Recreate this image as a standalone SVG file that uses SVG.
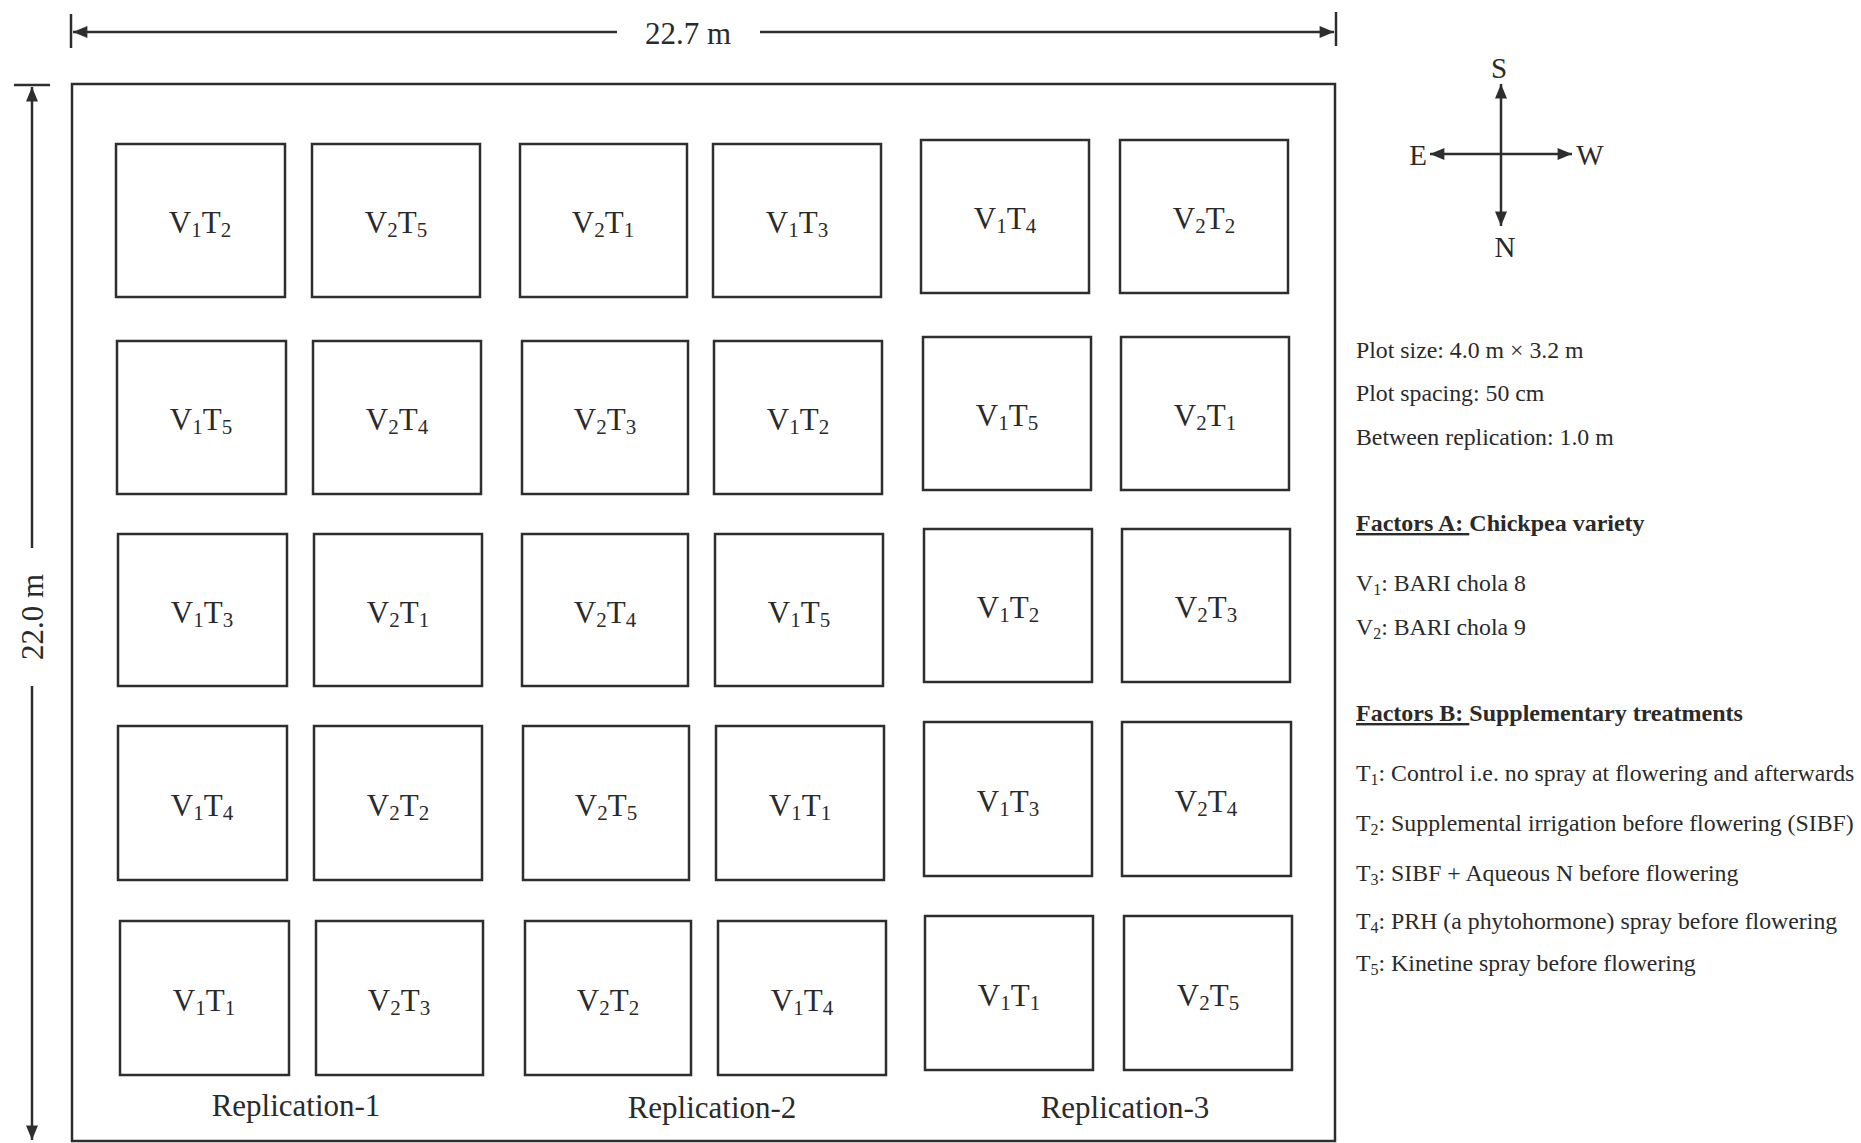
<svg xmlns="http://www.w3.org/2000/svg" width="1861" height="1143" viewBox="0 0 1861 1143">
<style>
text{font-family:"Liberation Serif","Times New Roman",serif;fill:#2a2a2a}
.plot{fill:none;stroke:#2e2e2e;stroke-width:2.5}
.lbl{font-size:31px;text-anchor:middle}
.sub{font-size:21px}
.dim{stroke:#2e2e2e;stroke-width:2.5;fill:none}
.leg{font-size:23.8px}
.ls{font-size:16px}
.legb{font-size:24px;font-weight:bold}
</style>
<defs>
<marker id="arr" viewBox="0 0 12 10" refX="12" refY="5" markerUnits="userSpaceOnUse" markerWidth="15" markerHeight="12" orient="auto-start-reverse">
<path d="M0,0 L12,5 L0,10 z" fill="#2e2e2e"/>
</marker>
</defs>
<rect width="1861" height="1143" fill="#ffffff"/>

<g id="connectors">
<line class="dim" x1="71" y1="14" x2="71" y2="48"/>
<line class="dim" x1="1336" y1="12" x2="1336" y2="46"/>
<line class="dim" x1="73" y1="32" x2="617" y2="32" marker-start="url(#arr)"/>
<line class="dim" x1="760" y1="32" x2="1334" y2="32" marker-end="url(#arr)"/>
<line class="dim" x1="14" y1="85" x2="50" y2="85"/>
<line class="dim" x1="32" y1="87" x2="32" y2="548" marker-start="url(#arr)"/>
<line class="dim" x1="32" y1="686" x2="32" y2="1140" marker-end="url(#arr)"/>
<line class="dim" x1="1501" y1="84" x2="1501" y2="226" marker-start="url(#arr)" marker-end="url(#arr)"/>
<line class="dim" x1="1430" y1="154" x2="1572" y2="154" marker-start="url(#arr)" marker-end="url(#arr)"/>
</g>

<g id="dimension-labels">
<text x="688" y="44" style="font-size:31px;text-anchor:middle">22.7 m</text>
<text x="43" y="617" transform="rotate(-90 43 617)" style="font-size:31px;text-anchor:middle">22.0 m</text>
</g>

<g id="compass">
<text x="1499" y="78" style="font-size:29px;text-anchor:middle">S</text>
<text x="1505" y="257" style="font-size:29px;text-anchor:middle">N</text>
<text x="1418" y="165" style="font-size:29px;text-anchor:middle">E</text>
<text x="1590" y="165" style="font-size:29px;text-anchor:middle">W</text>
</g>

<g id="field">
<rect x="72" y="84" width="1263" height="1057" fill="none" stroke="#2e2e2e" stroke-width="2.5"/>
</g>

<g id="p-r1c1"><rect class="plot" x="116" y="144" width="169" height="153"/><text class="lbl" x="200" y="233">V<tspan class="sub" dy="4">1</tspan><tspan dy="-4">T</tspan><tspan class="sub" dy="4">2</tspan></text></g>
<g id="p-r1c2"><rect class="plot" x="312" y="144" width="168" height="153"/><text class="lbl" x="396" y="233">V<tspan class="sub" dy="4">2</tspan><tspan dy="-4">T</tspan><tspan class="sub" dy="4">5</tspan></text></g>
<g id="p-r1c3"><rect class="plot" x="520" y="144" width="167" height="153"/><text class="lbl" x="603" y="233">V<tspan class="sub" dy="4">2</tspan><tspan dy="-4">T</tspan><tspan class="sub" dy="4">1</tspan></text></g>
<g id="p-r1c4"><rect class="plot" x="713" y="144" width="168" height="153"/><text class="lbl" x="797" y="233">V<tspan class="sub" dy="4">1</tspan><tspan dy="-4">T</tspan><tspan class="sub" dy="4">3</tspan></text></g>
<g id="p-r1c5"><rect class="plot" x="921" y="140" width="168" height="153"/><text class="lbl" x="1005" y="229">V<tspan class="sub" dy="4">1</tspan><tspan dy="-4">T</tspan><tspan class="sub" dy="4">4</tspan></text></g>
<g id="p-r1c6"><rect class="plot" x="1120" y="140" width="168" height="153"/><text class="lbl" x="1204" y="229">V<tspan class="sub" dy="4">2</tspan><tspan dy="-4">T</tspan><tspan class="sub" dy="4">2</tspan></text></g>

<g id="p-r2c1"><rect class="plot" x="117" y="341" width="169" height="153"/><text class="lbl" x="201" y="430">V<tspan class="sub" dy="4">1</tspan><tspan dy="-4">T</tspan><tspan class="sub" dy="4">5</tspan></text></g>
<g id="p-r2c2"><rect class="plot" x="313" y="341" width="168" height="153"/><text class="lbl" x="397" y="430">V<tspan class="sub" dy="4">2</tspan><tspan dy="-4">T</tspan><tspan class="sub" dy="4">4</tspan></text></g>
<g id="p-r2c3"><rect class="plot" x="522" y="341" width="166" height="153"/><text class="lbl" x="605" y="430">V<tspan class="sub" dy="4">2</tspan><tspan dy="-4">T</tspan><tspan class="sub" dy="4">3</tspan></text></g>
<g id="p-r2c4"><rect class="plot" x="714" y="341" width="168" height="153"/><text class="lbl" x="798" y="430">V<tspan class="sub" dy="4">1</tspan><tspan dy="-4">T</tspan><tspan class="sub" dy="4">2</tspan></text></g>
<g id="p-r2c5"><rect class="plot" x="923" y="337" width="168" height="153"/><text class="lbl" x="1007" y="426">V<tspan class="sub" dy="4">1</tspan><tspan dy="-4">T</tspan><tspan class="sub" dy="4">5</tspan></text></g>
<g id="p-r2c6"><rect class="plot" x="1121" y="337" width="168" height="153"/><text class="lbl" x="1205" y="426">V<tspan class="sub" dy="4">2</tspan><tspan dy="-4">T</tspan><tspan class="sub" dy="4">1</tspan></text></g>

<g id="p-r3c1"><rect class="plot" x="118" y="534" width="169" height="152"/><text class="lbl" x="202" y="623">V<tspan class="sub" dy="4">1</tspan><tspan dy="-4">T</tspan><tspan class="sub" dy="4">3</tspan></text></g>
<g id="p-r3c2"><rect class="plot" x="314" y="534" width="168" height="152"/><text class="lbl" x="398" y="623">V<tspan class="sub" dy="4">2</tspan><tspan dy="-4">T</tspan><tspan class="sub" dy="4">1</tspan></text></g>
<g id="p-r3c3"><rect class="plot" x="522" y="534" width="166" height="152"/><text class="lbl" x="605" y="623">V<tspan class="sub" dy="4">2</tspan><tspan dy="-4">T</tspan><tspan class="sub" dy="4">4</tspan></text></g>
<g id="p-r3c4"><rect class="plot" x="715" y="534" width="168" height="152"/><text class="lbl" x="799" y="623">V<tspan class="sub" dy="4">1</tspan><tspan dy="-4">T</tspan><tspan class="sub" dy="4">5</tspan></text></g>
<g id="p-r3c5"><rect class="plot" x="924" y="529" width="168" height="153"/><text class="lbl" x="1008" y="618">V<tspan class="sub" dy="4">1</tspan><tspan dy="-4">T</tspan><tspan class="sub" dy="4">2</tspan></text></g>
<g id="p-r3c6"><rect class="plot" x="1122" y="529" width="168" height="153"/><text class="lbl" x="1206" y="618">V<tspan class="sub" dy="4">2</tspan><tspan dy="-4">T</tspan><tspan class="sub" dy="4">3</tspan></text></g>

<g id="p-r4c1"><rect class="plot" x="118" y="726" width="169" height="154"/><text class="lbl" x="202" y="816">V<tspan class="sub" dy="4">1</tspan><tspan dy="-4">T</tspan><tspan class="sub" dy="4">4</tspan></text></g>
<g id="p-r4c2"><rect class="plot" x="314" y="726" width="168" height="154"/><text class="lbl" x="398" y="816">V<tspan class="sub" dy="4">2</tspan><tspan dy="-4">T</tspan><tspan class="sub" dy="4">2</tspan></text></g>
<g id="p-r4c3"><rect class="plot" x="523" y="726" width="166" height="154"/><text class="lbl" x="606" y="816">V<tspan class="sub" dy="4">2</tspan><tspan dy="-4">T</tspan><tspan class="sub" dy="4">5</tspan></text></g>
<g id="p-r4c4"><rect class="plot" x="716" y="726" width="168" height="154"/><text class="lbl" x="800" y="816">V<tspan class="sub" dy="4">1</tspan><tspan dy="-4">T</tspan><tspan class="sub" dy="4">1</tspan></text></g>
<g id="p-r4c5"><rect class="plot" x="924" y="722" width="168" height="154"/><text class="lbl" x="1008" y="812">V<tspan class="sub" dy="4">1</tspan><tspan dy="-4">T</tspan><tspan class="sub" dy="4">3</tspan></text></g>
<g id="p-r4c6"><rect class="plot" x="1122" y="722" width="169" height="154"/><text class="lbl" x="1206" y="812">V<tspan class="sub" dy="4">2</tspan><tspan dy="-4">T</tspan><tspan class="sub" dy="4">4</tspan></text></g>

<g id="p-r5c1"><rect class="plot" x="120" y="921" width="169" height="154"/><text class="lbl" x="204" y="1011">V<tspan class="sub" dy="4">1</tspan><tspan dy="-4">T</tspan><tspan class="sub" dy="4">1</tspan></text></g>
<g id="p-r5c2"><rect class="plot" x="316" y="921" width="167" height="154"/><text class="lbl" x="399" y="1011">V<tspan class="sub" dy="4">2</tspan><tspan dy="-4">T</tspan><tspan class="sub" dy="4">3</tspan></text></g>
<g id="p-r5c3"><rect class="plot" x="525" y="921" width="166" height="154"/><text class="lbl" x="608" y="1011">V<tspan class="sub" dy="4">2</tspan><tspan dy="-4">T</tspan><tspan class="sub" dy="4">2</tspan></text></g>
<g id="p-r5c4"><rect class="plot" x="718" y="921" width="168" height="154"/><text class="lbl" x="802" y="1011">V<tspan class="sub" dy="4">1</tspan><tspan dy="-4">T</tspan><tspan class="sub" dy="4">4</tspan></text></g>
<g id="p-r5c5"><rect class="plot" x="925" y="916" width="168" height="154"/><text class="lbl" x="1009" y="1006">V<tspan class="sub" dy="4">1</tspan><tspan dy="-4">T</tspan><tspan class="sub" dy="4">1</tspan></text></g>
<g id="p-r5c6"><rect class="plot" x="1124" y="916" width="168" height="154"/><text class="lbl" x="1208" y="1006">V<tspan class="sub" dy="4">2</tspan><tspan dy="-4">T</tspan><tspan class="sub" dy="4">5</tspan></text></g>

<g id="replication-labels">
<text x="296" y="1116" style="font-size:31px;text-anchor:middle">Replication-1</text>
<text x="712" y="1118" style="font-size:31px;text-anchor:middle">Replication-2</text>
<text x="1125" y="1118" style="font-size:31px;text-anchor:middle">Replication-3</text>
</g>

<g id="legend">
<text class="leg" x="1356" y="358">Plot size: 4.0 m × 3.2 m</text>
<text class="leg" x="1356" y="401">Plot spacing: 50 cm</text>
<text class="leg" x="1356" y="445">Between replication: 1.0 m</text>
<text class="legb" x="1356" y="531"><tspan text-decoration="underline">Factors A: </tspan>Chickpea variety</text>
<text class="leg" x="1356" y="591">V<tspan class="ls" dy="4">1</tspan><tspan dy="-4">: BARI chola 8</tspan></text>
<text class="leg" x="1356" y="635">V<tspan class="ls" dy="4">2</tspan><tspan dy="-4">: BARI chola 9</tspan></text>
<text class="legb" x="1356" y="721"><tspan text-decoration="underline">Factors B: </tspan>Supplementary treatments</text>
<text class="leg" x="1356" y="781">T<tspan class="ls" dy="4">1</tspan><tspan dy="-4">: Control i.e. no spray at flowering and afterwards</tspan></text>
<text class="leg" x="1356" y="831">T<tspan class="ls" dy="4">2</tspan><tspan dy="-4">: Supplemental irrigation before flowering (SIBF)</tspan></text>
<text class="leg" x="1356" y="881">T<tspan class="ls" dy="4">3</tspan><tspan dy="-4">: SIBF + Aqueous N before flowering</tspan></text>
<text class="leg" x="1356" y="929">T<tspan class="ls" dy="4">4</tspan><tspan dy="-4">: PRH (a phytohormone) spray before flowering</tspan></text>
<text class="leg" x="1356" y="971">T<tspan class="ls" dy="4">5</tspan><tspan dy="-4">: Kinetine spray before flowering</tspan></text>
</g>
</svg>
